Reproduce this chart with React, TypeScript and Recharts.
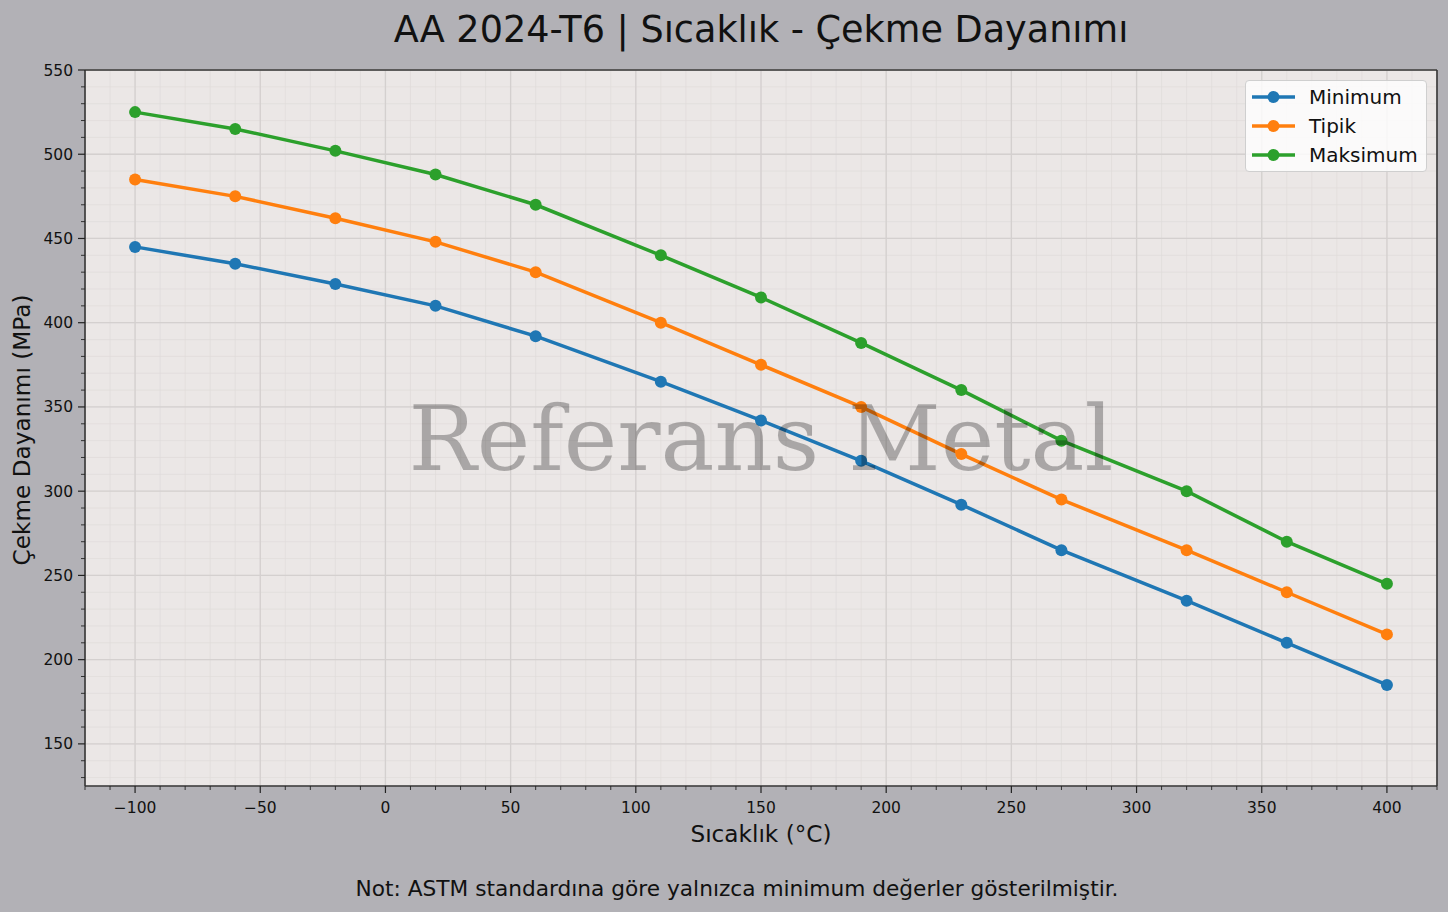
import React from "react";
import {
  LineChart,
  Line,
  XAxis,
  YAxis,
  CartesianGrid,
  ReferenceLine,
  Legend,
} from "recharts";

// temperatures (°C) and tensile strength (MPa)
const temps = [-100, -60, -20, 20, 60, 110, 150, 190, 230, 270, 320, 360, 400];
const minimum = [445, 435, 423, 410, 392, 365, 342, 318, 292, 265, 235, 210, 185];
const typical = [485, 475, 462, 448, 430, 400, 375, 350, 322, 295, 265, 240, 215];
const maximum = [525, 515, 502, 488, 470, 440, 415, 388, 360, 330, 300, 270, 245];

const seriesNames = ["Minimum", "Tipik", "Maksimum"];
const seriesColors = ["#1f77b4", "#ff7f0e", "#2ca02c"];

const xMajorTicks = [-100, -50, 0, 50, 100, 150, 200, 250, 300, 350, 400];
const yMajorTicks = [150, 200, 250, 300, 350, 400, 450, 500, 550];
const xDomain: [number, number] = [-120, 420];
const yDomain: [number, number] = [125, 550];

// minor ticks every 10 units
const xMinorTicks = Array.from({ length: 55 }, (_, i) => -120 + i * 10);
const yMinorTicks = Array.from({ length: 43 }, (_, i) => 130 + i * 10);

const title = "AA 2024-T6 | Sıcaklık - Çekme Dayanımı";
const xLabel = "Sıcaklık (°C)";
const yLabel = "Çekme Dayanımı (MPa)";
const note = "Not: ASTM standardına göre yalnızca minimum değerler gösterilmiştir.";
const watermark = "Referans Metal";

const data = temps.map((t, i) => ({
  t,
  min: minimum[i],
  typ: typical[i],
  max: maximum[i],
}));
const keys = ["min", "typ", "max"];

const FONT = "'DejaVu Sans', sans-serif";
const fmt = (v: number) => (v < 0 ? `\u2212${Math.abs(v)}` : `${v}`);

function XTick(props: any) {
  const { x, y, payload } = props;
  const v = payload.value;
  const major = xMajorTicks.includes(v);
  return (
    <g>
      <line x1={x} x2={x} y1={y} y2={y + (major ? 7 : 4)} stroke="#222" strokeWidth={major ? 1.2 : 0.9} />
      {major && (
        <text x={x} y={y + 26.5} textAnchor="middle" fontSize={15.5} fontFamily={FONT} fill="#111">
          {fmt(v)}
        </text>
      )}
    </g>
  );
}

function YTick(props: any) {
  const { x, y, payload } = props;
  const v = payload.value;
  const major = yMajorTicks.includes(v);
  return (
    <g>
      <line x1={x} x2={x - (major ? 7 : 4)} y1={y} y2={y} stroke="#222" strokeWidth={major ? 1.2 : 0.9} />
      {major && (
        <text x={x - 12} y={y + 5.5} textAnchor="end" fontSize={15.5} fontFamily={FONT} fill="#111">
          {fmt(v)}
        </text>
      )}
    </g>
  );
}

function LegendBox() {
  return (
    <div
      style={{
        width: 182,
        height: 92,
        background: "rgba(255,255,255,0.8)",
        border: "1px solid #cfcfcf",
        borderRadius: 4,
        boxSizing: "border-box",
      }}
    >
      <svg width={180} height={90} style={{ display: "block" }}>
        {seriesNames.map((name, i) => {
          const cy = 16 + i * 29;
          return (
            <g key={name}>
              <line x1={6} x2={49} y1={cy} y2={cy} stroke={seriesColors[i]} strokeWidth={3.5} />
              <circle cx={27.5} cy={cy} r={6} fill={seriesColors[i]} />
              <text x={63} y={cy + 7} fontSize={20} fontFamily={FONT} fill="#111">
                {name}
              </text>
            </g>
          );
        })}
      </svg>
    </div>
  );
}

export default function App() {
  return (
    <div
      style={{
        position: "absolute",
        left: 0,
        top: 0,
        width: 1448,
        height: 912,
        background: "#b2b1b6",
        overflow: "hidden",
      }}
    >
      <LineChart
        width={1448}
        height={912}
        data={data}
        margin={{ top: 70, right: 11, bottom: 96, left: 25 }}
      >
        <CartesianGrid stroke="#dfdbda" strokeWidth={0.7} fill="#ebe7e6" />
        {xMajorTicks.map((v) => (
          <ReferenceLine key={`gx${v}`} x={v} stroke="#d4d0cf" strokeWidth={1.3} />
        ))}
        {yMajorTicks.map((v) => (
          <ReferenceLine key={`gy${v}`} y={v} stroke="#d4d0cf" strokeWidth={1.3} />
        ))}
        <XAxis
          dataKey="t"
          type="number"
          domain={xDomain}
          allowDataOverflow
          ticks={xMinorTicks}
          interval={0}
          tickSize={0}
          tickMargin={0}
          tickLine={false}
          tick={(p: any) => <XTick {...p} />}
          axisLine={{ stroke: "#333", strokeWidth: 1.6 }}
          height={30}
        />
        <YAxis
          type="number"
          domain={yDomain}
          allowDataOverflow
          ticks={yMinorTicks}
          interval={0}
          tickSize={0}
          tickMargin={0}
          tickLine={false}
          tick={(p: any) => <YTick {...p} />}
          axisLine={{ stroke: "#333", strokeWidth: 1.6 }}
          width={60}
        />
        <ReferenceLine x={xDomain[1]} stroke="#333" strokeWidth={1.6} />
        <ReferenceLine y={yDomain[1]} stroke="#333" strokeWidth={1.6} />
        {keys.map((k, i) => (
          <Line
            key={k}
            dataKey={k}
            name={seriesNames[i]}
            stroke={seriesColors[i]}
            strokeWidth={3.5}
            dot={{ r: 6, fill: seriesColors[i], stroke: seriesColors[i], strokeWidth: 0 }}
            activeDot={false}
            isAnimationActive={false}
          />
        ))}
        <Legend
          layout="vertical"
          align="center"
          verticalAlign="middle"
          content={() => <LegendBox />}
          wrapperStyle={{ top: 80, left: 1245, width: 182, height: 92 }}
        />
      </LineChart>
      <svg
        width={1448}
        height={912}
        style={{ position: "absolute", left: 0, top: 0, pointerEvents: "none" }}
      >
        <text x={761} y={42} textAnchor="middle" fontSize={36.6} fontFamily={FONT} fill="#111">
          {title}
        </text>
        <text
          x={761}
          y={470}
          textAnchor="middle"
          fontSize={90.5}
          fontFamily="'DejaVu Serif', serif"
          fill="#000"
          fillOpacity={0.28}
        >
          {watermark}
        </text>
        <text x={761} y={842} textAnchor="middle" fontSize={23.2} fontFamily={FONT} fill="#111">
          {xLabel}
        </text>
        <text
          x={30}
          y={430}
          textAnchor="middle"
          fontSize={23.2}
          fontFamily={FONT}
          fill="#111"
          transform="rotate(-90 30 430)"
        >
          {yLabel}
        </text>
        <text x={737} y={896} textAnchor="middle" fontSize={21.7} fontFamily={FONT} fill="#111">
          {note}
        </text>
      </svg>
    </div>
  );
}
